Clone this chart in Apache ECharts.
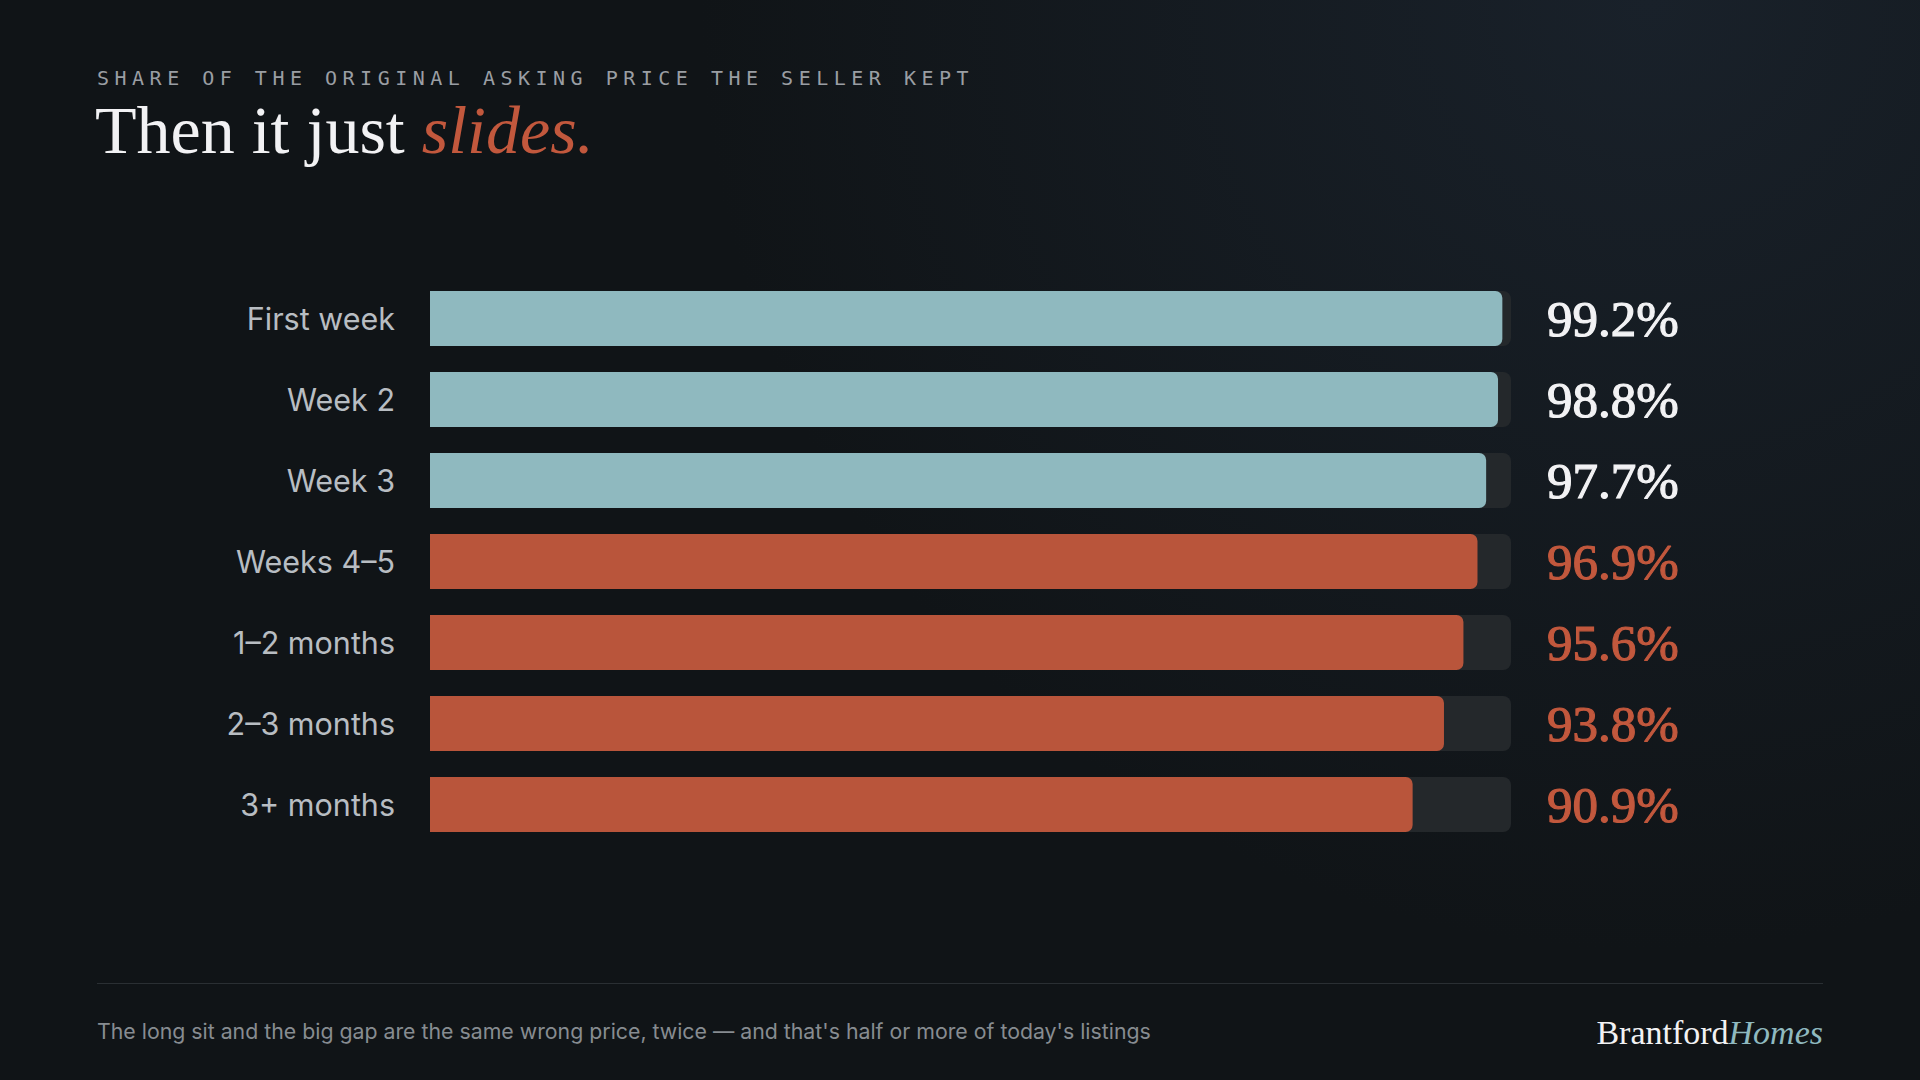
<!DOCTYPE html>
<html>
<head>
<meta charset="utf-8">
<title>Then it just slides.</title>
<script src="https://cdn.jsdelivr.net/npm/echarts@6/dist/echarts.min.js"></script>
<style>
  html, body { margin: 0; padding: 0; background: #101417; }
  #chart { width: 1920px; height: 1080px; }
  /* zrender has no letter-spacing, so the mono kicker gets it from css (svg renderer) */
  #chart text[style*="Mono"] { letter-spacing: 5.5px; }
</style>
</head>
<body>
<div id="chart"></div>
<script>
var categories = ['First week', 'Week 2', 'Week 3', 'Weeks 4–5', '1–2 months', '2–3 months', '3+ months']
var shareKept = [99.2, 98.8, 97.7, 96.9, 95.6, 93.8, 90.9]
var isEarly = [true, true, true, false, false, false, false]
var axisMin = 0
var axisMax = 100

var COLORS = {
  bg: '#101417',
  glow: '#19212a',
  teal: '#8fb9bf',
  rust: '#b9553b',
  rustText: '#c2583d',
  track: '#24282b',
  label: '#b8bdc2',
  white: '#f2f2f4',
  muted: '#9a9ea3',
  footnote: '#878c91',
  rule: '#2a2f33'
}

var SERIF = '"Liberation Serif", "DejaVu Serif", serif'
var SANS = 'Inter, "Noto Sans", sans-serif'

var chart = echarts.init(document.getElementById('chart'), null, { renderer: 'svg' })

var option = {
  backgroundColor: COLORS.bg,
  animation: false,
  grid: { left: 430, right: 409, top: 278, height: 567 },
  xAxis: {
    type: 'value',
    min: axisMin,
    max: axisMax,
    show: false
  },
  yAxis: [
    {
      type: 'category',
      inverse: true,
      data: categories,
      axisLine: { show: false },
      axisTick: { show: false },
      axisLabel: { margin: 35, color: COLORS.label, fontFamily: SANS, fontSize: 30.5 }
    },
    {
      type: 'category',
      position: 'right',
      inverse: true,
      data: shareKept.map(function (v) { return v.toFixed(1) + '%' }),
      axisLine: { show: false },
      axisTick: { show: false },
      axisLabel: {
        margin: 36,
        align: 'left',
        formatter: function (value, index) {
          return (isEarly[index] ? '{w|' : '{r|') + value + '}'
        },
        // a thin stroke in the same colour gives the heavier display-serif look
        rich: {
          w: { color: COLORS.white, fontFamily: SERIF, fontSize: 51, textBorderColor: COLORS.white, textBorderWidth: 1.2 },
          r: { color: COLORS.rustText, fontFamily: SERIF, fontSize: 51, textBorderColor: COLORS.rustText, textBorderWidth: 1.2 }
        }
      }
    }
  ],
  series: [
    {
      name: 'Share kept',
      type: 'bar',
      yAxisIndex: 0,
      barWidth: 55,
      showBackground: true,
      backgroundStyle: { color: COLORS.track, borderRadius: [0, 8, 8, 0] },
      itemStyle: { borderRadius: [0, 7, 7, 0] },
      data: shareKept.map(function (v, i) {
        return { value: v, itemStyle: { color: isEarly[i] ? COLORS.teal : COLORS.rust } }
      })
    }
  ],
  graphic: [
    {
      type: 'rect',
      left: 0,
      top: 0,
      z: -10,
      silent: true,
      shape: { width: 1920, height: 1080 },
      style: {
        fill: new echarts.graphic.RadialGradient(1650, 0, 950, [
          { offset: 0, color: COLORS.glow },
          { offset: 1, color: COLORS.bg }
        ], true)
      }
    },
    {
      type: 'text',
      left: 97,
      top: 68,
      style: {
        text: 'SHARE OF THE ORIGINAL ASKING PRICE THE SELLER KEPT',
        fill: COLORS.muted,
        fontFamily: '"DejaVu Sans Mono", monospace',
        fontSize: 20
      }
    },
    {
      type: 'text',
      left: 95,
      top: 96,
      style: {
        text: '{a|Then it just }{b|slides.}',
        rich: {
          a: { fill: COLORS.white, fontFamily: SERIF, fontSize: 68 },
          b: { fill: COLORS.rustText, fontFamily: SERIF, fontSize: 68, fontStyle: 'italic' }
        }
      }
    },
    {
      type: 'rect',
      left: 97,
      top: 983,
      silent: true,
      shape: { width: 1726, height: 1 },
      style: { fill: COLORS.rule }
    },
    {
      type: 'text',
      left: 97,
      top: 1020,
      style: {
        text: "The long sit and the big gap are the same wrong price, twice — and that's half or more of today's listings",
        fill: COLORS.footnote,
        fontFamily: SANS,
        fontSize: 21.3
      }
    },
    {
      type: 'text',
      right: 97,
      top: 1015,
      style: {
        text: '{a|Brantford}{b|Homes}',
        rich: {
          a: { fill: COLORS.white, fontFamily: SERIF, fontSize: 34 },
          b: { fill: COLORS.teal, fontFamily: SERIF, fontSize: 34, fontStyle: 'italic' }
        }
      }
    }
  ]
}

chart.setOption(option)
</script>
</body>
</html>
